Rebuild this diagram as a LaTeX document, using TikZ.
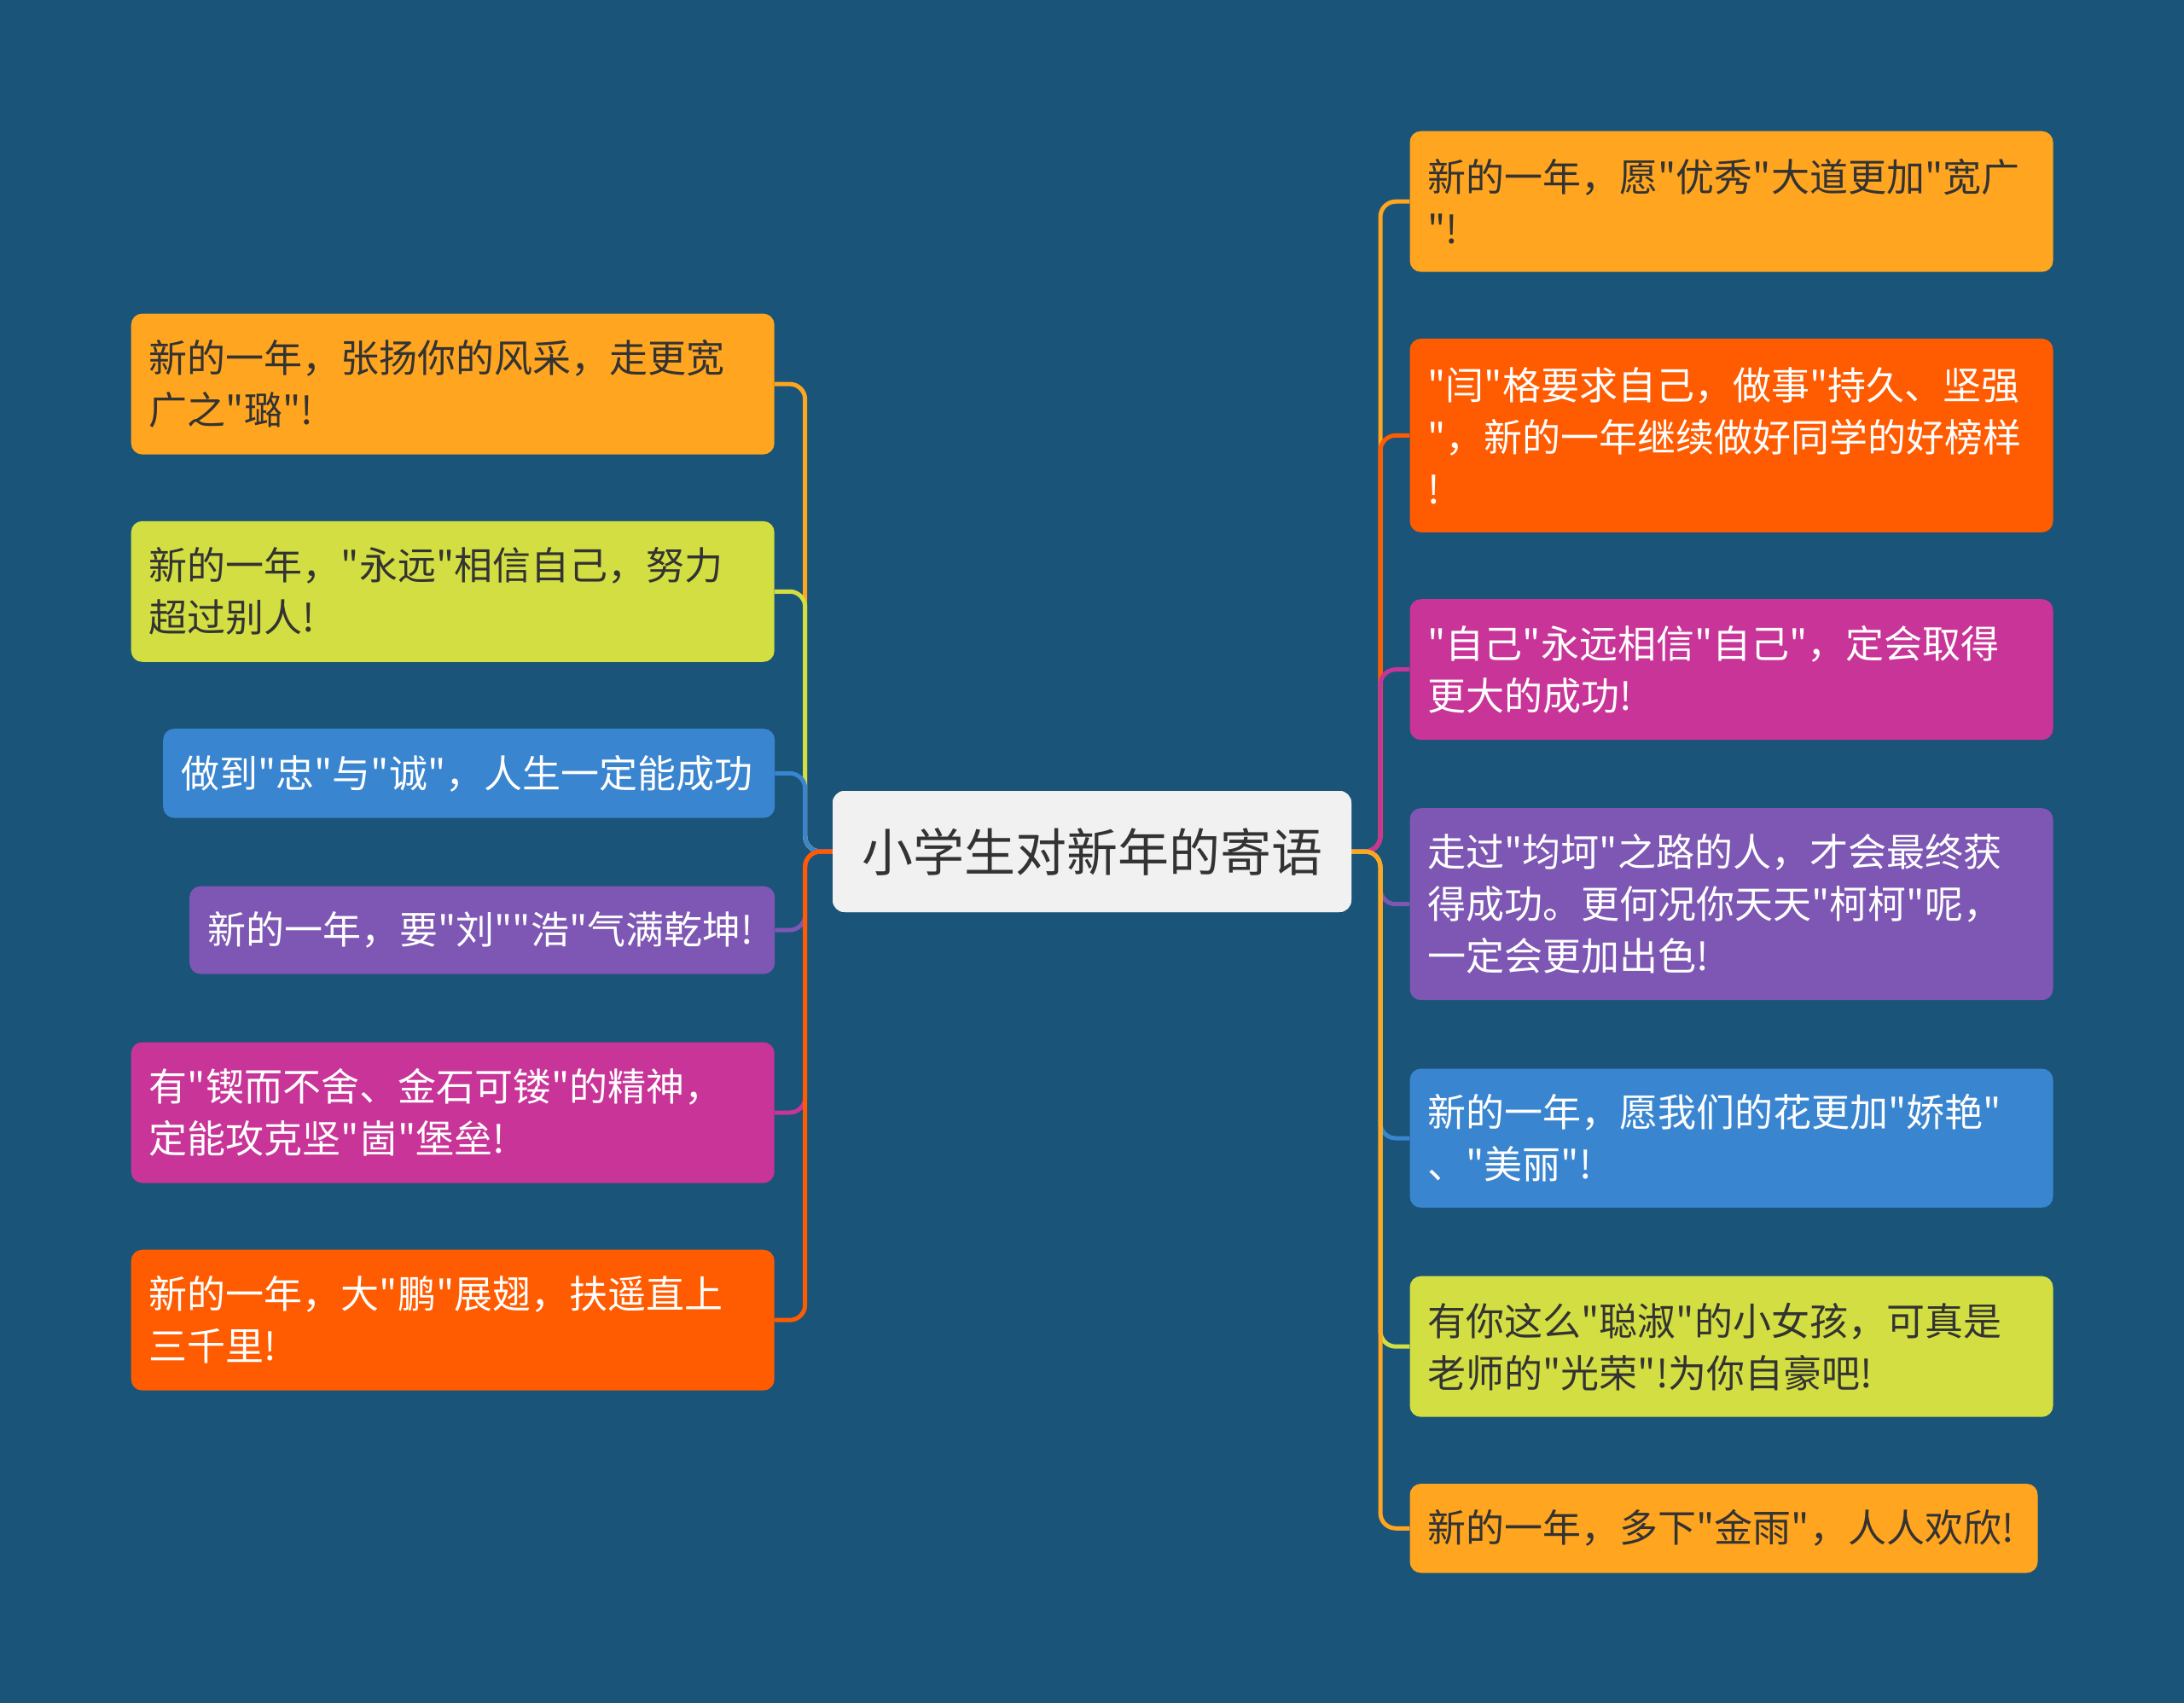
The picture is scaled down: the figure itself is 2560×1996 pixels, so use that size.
\documentclass[tikz,border=0pt]{standalone}
\usepackage{fontspec}
\newfontfamily\cjk{Noto Sans CJK SC}
\definecolor{bg}{HTML}{1A5478}
\definecolor{corange}{HTML}{FFA51F}
\definecolor{clime}{HTML}{D2DE41}
\definecolor{cblue}{HTML}{3A85CF}
\definecolor{cpurple}{HTML}{7D57B3}
\definecolor{cmagenta}{HTML}{C83497}
\definecolor{cred}{HTML}{FF5B00}
\definecolor{cdark}{HTML}{333333}
\definecolor{ccenter}{HTML}{F1F1F1}
\tikzset{
  box/.style={rounded corners=13pt, inner xsep=21pt, inner ysep=0pt, align=left,
    font=\cjk\fontsize{45}{61}\selectfont, anchor=north west},
  centerbox/.style={rounded corners=14pt, fill=ccenter, text=cdark, minimum width=608pt,
    minimum height=142pt, inner sep=0pt, font=\cjk\fontsize{60}{70}\selectfont},
  darkt/.style={text=cdark},
  whitet/.style={text=white},
  conn/.style={line width=5pt, rounded corners=18pt},
}
\begin{document}
\begin{tikzpicture}[x=1pt,y=-1pt]
\fill[bg] (0,0) rectangle (2560,1996);
\useasboundingbox (0,0) rectangle (2560,1996);

% center
\node[centerbox] (C) at (1280,998) {小学生对新年的寄语};

\coordinate (jl) at (943.7,998);
\coordinate (jr) at (1618,998);

% left nodes
\node[box, darkt, fill=corange, text width=712pt, minimum height=165pt] (L1) at (153.5,367.4)
  {新的一年，张扬你的风采，走更宽\\广之"璐"!};
\node[box, darkt, fill=clime, text width=712pt, minimum height=165pt] (L2) at (153.5,610.6)
  {新的一年，"永远"相信自己，努力\\超过别人!};
\node[box, whitet, fill=cblue, text width=675pt, minimum height=104.5pt] (L3) at (191,853.9)
  {做到"忠"与"诚"，人生一定能成功};
\node[box, whitet, fill=cpurple, text width=644pt, minimum height=103pt] (L4) at (222,1038.4)
  {新的一年，要"刘""浩"气满乾坤!};
\node[box, whitet, fill=cmagenta, text width=712pt, minimum height=165pt] (L5) at (153.5,1221.3)
  {有"锲而不舍、金石可镂"的精神，\\定能攻克坚"崮"堡垒!};
\node[box, whitet, fill=cred, text width=712pt, minimum height=165pt] (L6) at (153.5,1464.5)
  {新的一年，大"鹏"展翅，扶遥直上\\三千里!};

% right nodes
\node[box, darkt, fill=corange, text width=712pt, minimum height=165pt] (R1) at (1652.3,153.5)
  {新的一年，愿"优秀"大道更加"宽广\\"!};
\node[box, whitet, fill=cred, text width=712pt, minimum height=227pt] (R2) at (1652.3,396.7)
  {"闫"格要求自己，做事"持久、坚强\\"，新的一年继续做好同学的好榜样\\!};
\node[box, whitet, fill=cmagenta, text width=712pt, minimum height=165pt] (R3) at (1652.3,702)
  {"自己"永远相信"自己"，定会取得\\更大的成功!};
\node[box, whitet, fill=cpurple, text width=712pt, minimum height=225pt] (R4) at (1652.3,947)
  {走过"均坷"之路的人，才会最终获\\得成功。更何况你天天"柯柯"呢，\\一定会更加出色!};
\node[box, whitet, fill=cblue, text width=712pt, minimum height=163pt] (R5) at (1652.3,1252.3)
  {新的一年，愿我们的花更加"娇艳"\\、"美丽"!};
\node[box, darkt, fill=clime, text width=712pt, minimum height=165pt] (R6) at (1652.3,1495.5)
  {有你这么"聪淑"的小女孩，可真是\\老师的"光荣"!为你自豪吧!};
\node[box, darkt, fill=corange, text width=694pt, minimum height=104.5pt] (R7) at (1652.3,1738.8)
  {新的一年，多下"金雨"，人人欢欣!};

% connectors
\foreach \n/\c in {L1/corange,L2/clime,L3/cblue,L4/cpurple,L5/cmagenta,L6/cred}{
  \draw[conn, \c] (C.west) -- (jl) |- (\n.east);
}
\foreach \n/\c in {R1/corange,R2/cred,R3/cmagenta,R4/cpurple,R5/cblue,R6/clime,R7/corange}{
  \draw[conn, \c] (C.east) -- (jr) |- (\n.west);
}
% center node on top of connector ends
\node[centerbox] at (C) {小学生对新年的寄语};
\end{tikzpicture}
\end{document}
